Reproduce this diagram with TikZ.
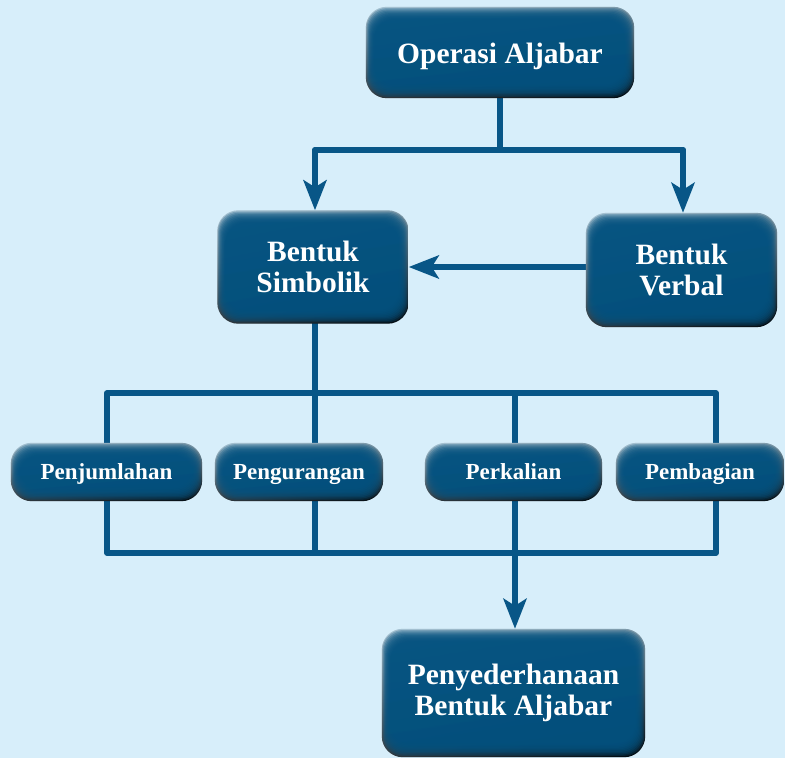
\documentclass[tikz,border=0pt]{standalone}
\usepackage{fontspec}
\setmainfont{Liberation Serif}
\usetikzlibrary{arrows.meta}
\definecolor{bgc}{RGB}{215,238,250}
\definecolor{lnc}{RGB}{8,86,135}
\definecolor{bvtop}{RGB}{150,185,205}
\definecolor{bvmain}{RGB}{3,82,128}
\definecolor{bvbot}{RGB}{0,12,20}
\pgfdeclarelayer{back}
\pgfdeclarelayer{lines}
\pgfdeclarelayer{bg}
\pgfsetlayers{back,lines,bg,main}
\tikzset{
  bx/.style={rectangle, draw=none, inner sep=0pt, text=white, align=center,
    font=\bfseries\fontsize{29.5}{31}\selectfont},
  sbx/.style={rectangle, draw=none, inner sep=0pt, text=white, align=center,
    minimum height=58pt, text height=15pt, text depth=0pt,
    font=\bfseries\fontsize{23}{25}\selectfont},
  conn/.style={line width=5.8pt, draw=lnc, line cap=round, line join=round},
  arr/.style={conn, -{Stealth[length=30pt,width=23pt,inset=7pt]}}
}
\newcommand{\bevbox}[1]{%
  \begin{pgfonlayer}{bg}
    \shade[rounded corners=21pt, top color=bvtop, middle color=bvmain, bottom color=bvbot]
      (#1.north west) rectangle (#1.south east);
    \shade[rounded corners=21pt, left color=white, right color=black, opacity=0.18]
      (#1.north west) rectangle (#1.south east);
    \foreach \i in {1,...,10}{
      \fill[bvmain, opacity=0.28, rounded corners=20pt]
        ([xshift={\i*0.85pt}, yshift={-\i*1.25pt}]#1.north west) rectangle
        ([xshift={-\i*1.0pt}, yshift={\i*1.35pt}]#1.south east);
    }
  \end{pgfonlayer}}
\begin{document}
\begin{tikzpicture}[x=1pt,y=-1pt]
\begin{pgfonlayer}{back}
\fill[bgc] (0,0) rectangle (785,758);
\end{pgfonlayer}
\useasboundingbox (0,0) rectangle (785,758);

\node[bx, minimum width=268pt, minimum height=91pt, text height=21pt, text depth=0pt] (op) at (500,52.5) {Operasi Aljabar};
\node[bx, minimum width=191pt, minimum height=113pt] (sim) at (313,267) {Bentuk\\Simbolik};
\node[bx, minimum width=191pt, minimum height=114pt] (ver) at (681.5,270) {Bentuk\\Verbal};
\node[sbx, minimum width=191pt] (pj) at (106.5,472) {Penjumlahan};
\node[sbx, minimum width=168pt] (pk) at (299,472) {Pengurangan};
\node[sbx, minimum width=177pt] (pl) at (513.5,472) {Perkalian};
\node[sbx, minimum width=168pt] (pb) at (700,472) {Pembagian};
\node[bx, minimum width=263pt, minimum height=128pt] (py) at (513.5,693) {Penyederhanaan\\Bentuk Aljabar};

\foreach \n in {op,sim,ver,pj,pk,pl,pb,py}{\bevbox{\n}}

\begin{pgfonlayer}{lines}
\coordinate (j0) at (500,150);
\coordinate (jl) at (315,150);
\coordinate (jr) at (683,150);
\draw[conn] (op.south) -- (j0);
\draw[conn] (jl) -- (jr);
\draw[arr] (jl) -- (jl |- sim.north);
\draw[arr] (jr) -- (jr |- ver.north);
\draw[arr] (ver.west |- sim.east) -- (sim.east);

\coordinate (a1) at (107,393);
\coordinate (a2) at (315,393);
\coordinate (a3) at (515,393);
\coordinate (a4) at (716,393);
\coordinate (b1) at (107,553);
\coordinate (b2) at (315,553);
\coordinate (b3) at (515,553);
\coordinate (b4) at (716,553);
\draw[conn] (a2 |- sim.south) -- (a2);
\draw[conn] (a1) -- (a4) -- (b4) -- (b1) -- cycle;
\draw[conn] (a2) -- (b2);
\draw[conn] (a3) -- (b3);
\draw[arr] (b3) -- (b3 |- py.north);
\end{pgfonlayer}
\end{tikzpicture}
\end{document}
